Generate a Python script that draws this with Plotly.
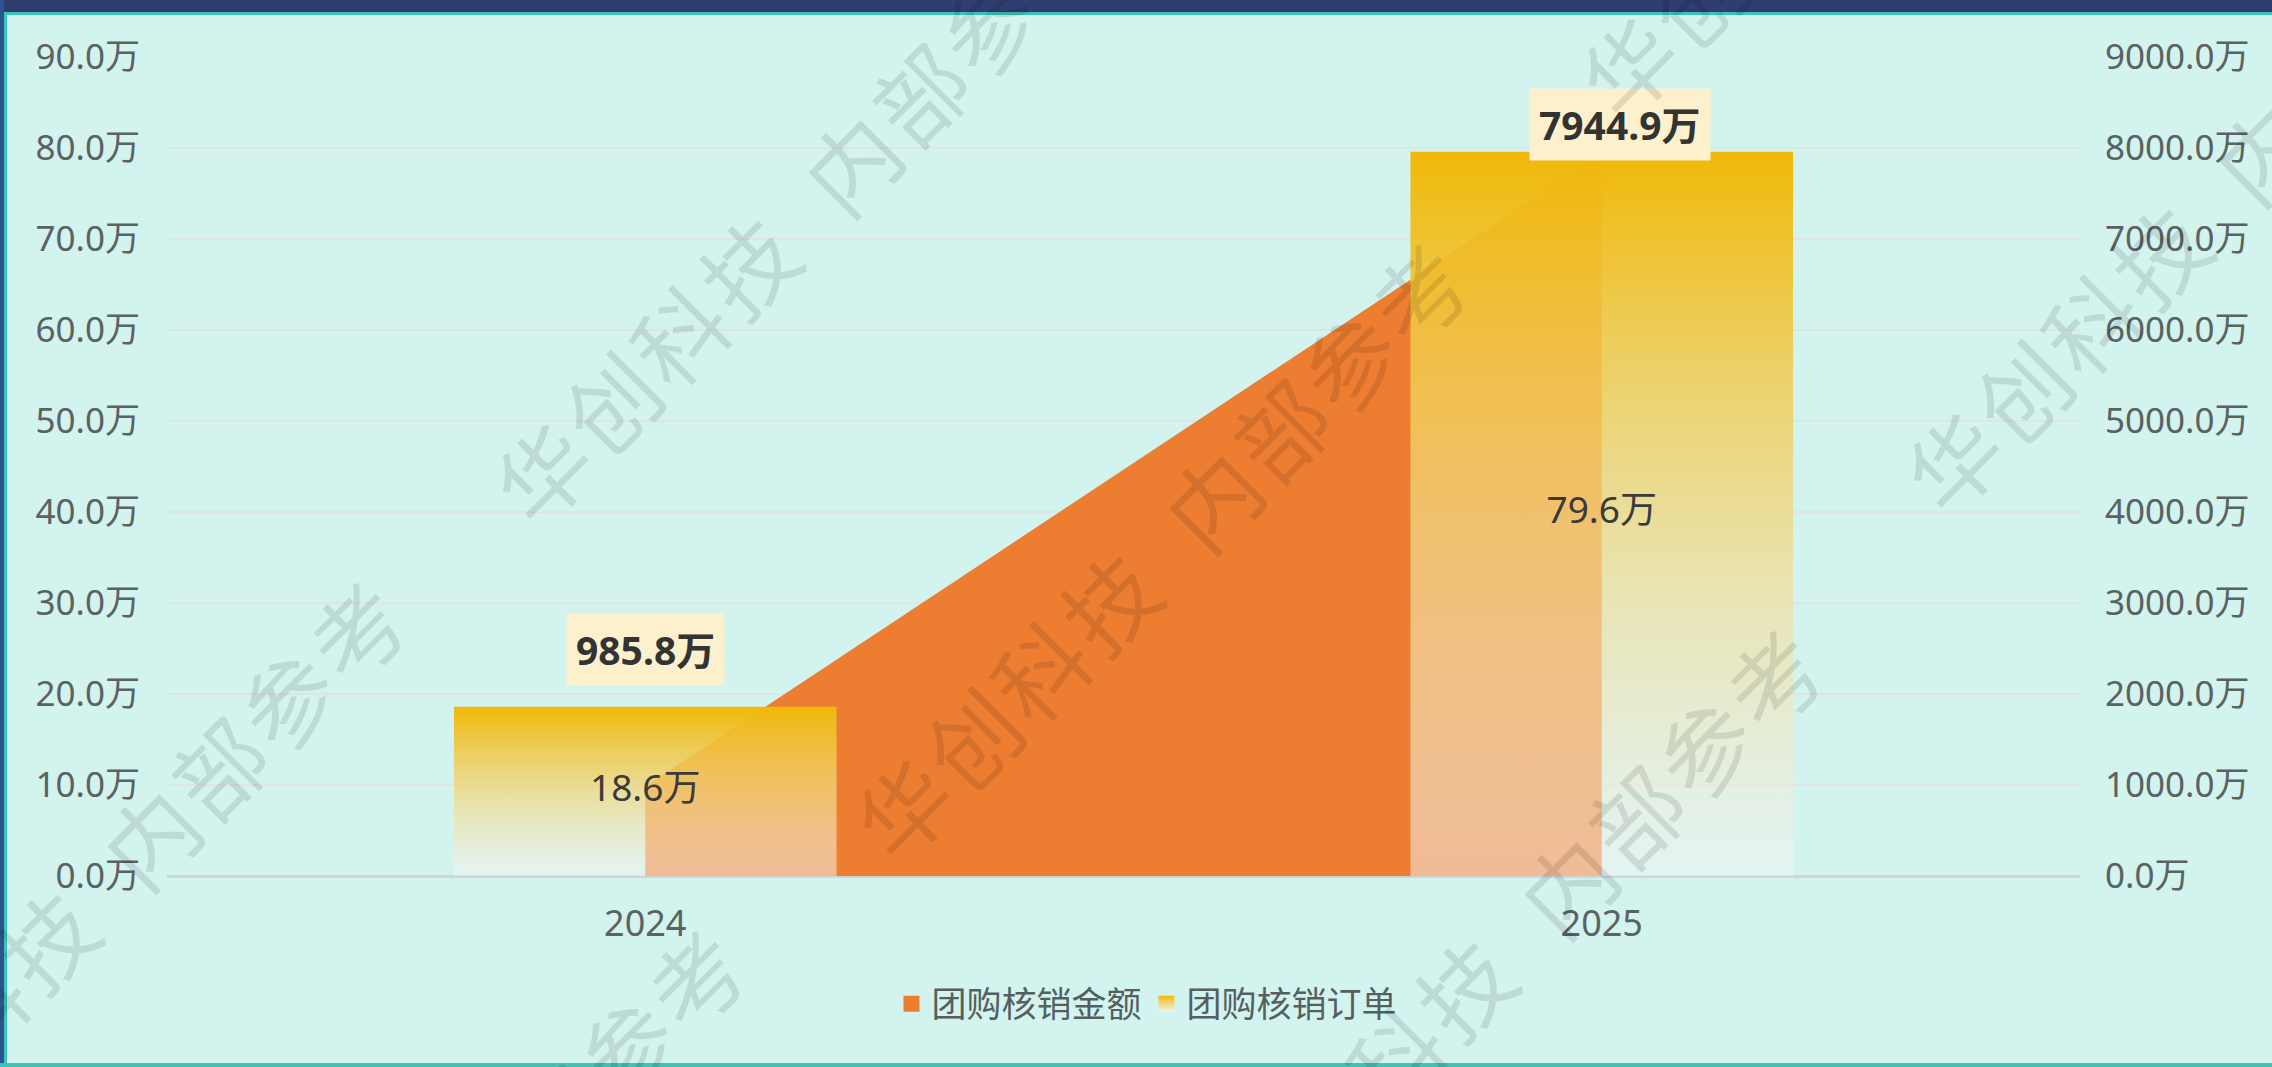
import plotly.graph_objects as go

# ---------------- data ----------------
years = ["2024", "2025"]
amount = [985.8, 7944.9]     # 团购核销金额 (万) - right axis
orders = [18.6, 79.6]        # 团购核销订单 (万) - left axis
series_names = ["团购核销金额", "团购核销订单"]
left_ticks = [0, 10, 20, 30, 40, 50, 60, 70, 80, 90]
right_ticks = [0, 1000, 2000, 3000, 4000, 5000, 6000, 7000, 8000, 9000]
watermark_text = "华创科技 内部参考"

# ---------------- layout geometry ----------------
W_FIG, H_FIG = 2272, 1067
M_L, M_R, M_T, M_B = 167, 192, 57, 191
PW = W_FIG - M_L - M_R
PH = H_FIG - M_T - M_B


def pxp(x):
    return (x - M_L) / PW


def pyp(y):
    return (H_FIG - M_B - y) / PH


FONT = "Noto Sans, Noto Sans CJK SC, sans-serif"
BG = "#d3f3ef"
ORANGE = "#ED7D31"
TICK_COLOR = "#5b6262"
BAR_TOP = "rgba(240,184,8,1)"
BAR_BOTTOM = "rgba(242,245,245,0.52)"

xs = list(range(len(years)))
BAR_HALF = 0.2

fig = go.Figure()

# legend entries (legend-only, no data)
fig.add_trace(go.Scatter(
    x=[None], y=[None], mode="markers", name=series_names[0],
    marker=dict(symbol="square", size=20, color=ORANGE),
))
fig.add_trace(go.Scatter(
    x=[None], y=[None], mode="markers", name=series_names[1],
    marker=dict(symbol="square", size=20, color="#F0B808",
                gradient=dict(type="vertical", color="#eef6f4")),
))

# area (drawn on base axis -> below the bars)
fig.add_trace(go.Scatter(
    x=xs, y=amount, name=series_names[0], mode="lines",
    line=dict(width=0, color=ORANGE), fill="tozeroy", fillcolor=ORANGE,
    yaxis="y", hoverinfo="skip", showlegend=False,
))

# gradient bars
for i, (x, v) in enumerate(zip(xs, orders)):
    fig.add_trace(go.Scatter(
        x=[x - BAR_HALF, x - BAR_HALF, x + BAR_HALF, x + BAR_HALF, x - BAR_HALF],
        y=[0, v, v, 0, 0],
        mode="lines", line=dict(width=0, color="#F0B808"),
        fill="toself",
        fillgradient=dict(type="vertical",
                          colorscale=[[0, BAR_BOTTOM], [1, BAR_TOP]]),
        name=series_names[1], showlegend=False,
        yaxis="y2", hoverinfo="skip",
    ))

# values inside bars
fig.add_trace(go.Scatter(
    x=xs, y=[v / 2 for v in orders], mode="text",
    text=[f"{v:.1f}万" for v in orders],
    textfont=dict(family=FONT, size=37, color="#3a3a3a"),
    yaxis="y2", showlegend=False, hoverinfo="skip",
))

annotations = []
label_shift = [(0, 57), (18, 27)]
for i, (x, v, a) in enumerate(zip(xs, orders, amount)):
    annotations.append(dict(
        x=x, y=v, xref="x", yref="y2", text=f"<b>{a:.1f}万</b>",
        showarrow=False, xanchor="center", yanchor="middle",
        xshift=label_shift[i][0], yshift=label_shift[i][1],
        font=dict(family=FONT, size=39, color="#333333"),
        bgcolor="#fdf0cc", borderpad=9,
    ))

# watermark (tiled, rotated)
wm_origins = [(849, 161), (1210, 497), (1565, 883), (148, 835),
              (2260, 150), (487, 1183), (1935, -245)]
along = [-437, -340, -243, -146, None, 0, 97, 194, 291]
for ox, oy in wm_origins:
    for ch, s in zip(watermark_text, along):
        if s is None:
            continue
        cx = ox + s * 0.7071
        cy = oy - s * 0.7071
        if cx < -60 or cx > W_FIG + 60 or cy < -60 or cy > H_FIG + 60:
            continue
        annotations.append(dict(
            x=pxp(cx), y=pyp(cy), xref="paper", yref="paper", text=ch,
            showarrow=False, xanchor="center", yanchor="middle",
            textangle=-45,
            font=dict(family="Noto Sans CJK SC", size=92,
                      color="rgba(0,0,0,0.1)"),
        ))

# frame decorations
shapes = [
    dict(type="rect", xref="paper", yref="paper", x0=pxp(0), x1=pxp(W_FIG),
         y0=pyp(0), y1=pyp(12), fillcolor="#2f3d6f", line=dict(width=0)),
    dict(type="rect", xref="paper", yref="paper", x0=pxp(0), x1=pxp(W_FIG),
         y0=pyp(12), y1=pyp(15), fillcolor="#3ec3b9", line=dict(width=0)),
    dict(type="rect", xref="paper", yref="paper", x0=pxp(0), x1=pxp(4),
         y0=pyp(0), y1=pyp(H_FIG), fillcolor="#2b5590", line=dict(width=0)),
    dict(type="rect", xref="paper", yref="paper", x0=pxp(4), x1=pxp(7),
         y0=pyp(12), y1=pyp(H_FIG), fillcolor="#3ec3b9", line=dict(width=0)),
    dict(type="rect", xref="paper", yref="paper", x0=pxp(0), x1=pxp(W_FIG),
         y0=pyp(H_FIG - 4), y1=pyp(H_FIG), fillcolor="#3ec3b9", line=dict(width=0)),
]

tickfont = dict(family=FONT, size=35, color=TICK_COLOR)

fig.update_layout(
    width=W_FIG, height=H_FIG,
    margin=dict(l=M_L, r=M_R, t=M_T, b=M_B, autoexpand=False),
    paper_bgcolor=BG, plot_bgcolor=BG,
    font=dict(family=FONT, color=TICK_COLOR),
    showlegend=True,
    legend=dict(orientation="h", x=pxp(1147), y=pyp(1004),
                xanchor="center", yanchor="middle",
                font=dict(family=FONT, size=35, color="#555f5f"),
                bgcolor="rgba(0,0,0,0)", traceorder="normal",
                itemsizing="trace", itemwidth=30),
    xaxis=dict(range=[-0.5, 1.5], tickvals=xs, ticktext=years,
               showgrid=False, zeroline=False, showline=False, ticks="",
               tickfont=dict(family=FONT, size=36, color=TICK_COLOR),
               ticklabelstandoff=23, fixedrange=True),
    yaxis=dict(side="right", range=[0, 9000], tickvals=right_ticks,
               ticktext=[f"{v:.1f}万" for v in right_ticks], showgrid=True,
               gridcolor="#dde6e4", gridwidth=2,
               zeroline=True, zerolinecolor="#cfd4d4", zerolinewidth=3,
               showline=False, ticks="", tickfont=tickfont,
               ticklabelstandoff=24),
    yaxis2=dict(overlaying="y", side="left", range=[0, 90], tickvals=left_ticks,
                ticktext=[f"{v:.1f}万" for v in left_ticks], showgrid=False,
                zeroline=False, showline=False, ticks="", tickfont=tickfont,
                ticklabelstandoff=26),
    annotations=annotations,
    shapes=shapes,
    hovermode=False,
)

fig.write_html("out.html", config={"displayModeBar": False},
               post_script="document.body.style.margin='0';")
